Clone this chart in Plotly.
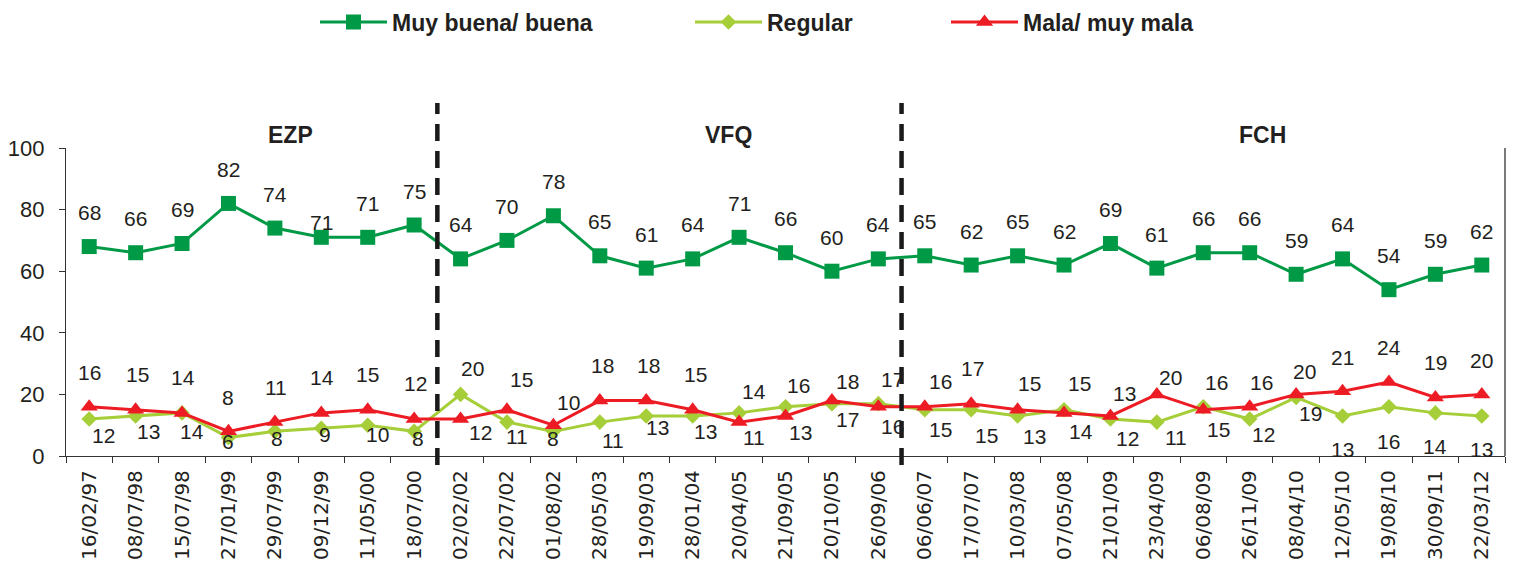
import plotly.graph_objects as go

# ---------------- data ----------------
dates = ["16/02/97", "08/07/98", "15/07/98", "27/01/99", "29/07/99", "09/12/99", "11/05/00",
         "18/07/00", "02/02/02", "22/07/02", "01/08/02", "28/05/03", "19/09/03", "28/01/04",
         "20/04/05", "21/09/05", "20/10/05", "26/09/06", "06/06/07", "17/07/07", "10/03/08",
         "07/05/08", "21/01/09", "23/04/09", "06/08/09", "26/11/09", "08/04/10", "12/05/10",
         "19/08/10", "30/09/11", "22/03/12"]
good = [68, 66, 69, 82, 74, 71, 71, 75, 64, 70, 78, 65, 61, 64, 71, 66, 60, 64, 65, 62, 65,
        62, 69, 61, 66, 66, 59, 64, 54, 59, 62]
regular = [12, 13, 14, 6, 8, 9, 10, 8, 20, 11, 8, 11, 13, 13, 14, 16, 17, 17, 15, 15, 13,
           15, 12, 11, 16, 12, 19, 13, 16, 14, 13]
bad = [16, 15, 14, 8, 11, 14, 15, 12, 12, 15, 10, 18, 18, 15, 11, 13, 18, 16, 16, 17, 15,
       14, 13, 20, 15, 16, 20, 21, 24, 19, 20]
series_names = ["Muy buena/ buena", "Regular", "Mala/ muy mala"]
periods = ["EZP", "VFQ", "FCH"]

# ---------------- style ----------------
colors = ["#009A46", "#A6CE39", "#ED1C24"]
symbols = ["square", "diamond", "triangle-up"]
msizes = [15, 12, 15]
period_pos = [4.33, 13.77, 25.28]
period_breaks = [7.5, 17.5]

# label offsets in px (yshift positive = up)
good_dy = [34] * 31
good_dy[5] = 15
good_dx = [0] * 31
reg_dy = [-16, -16, -19, -4, -7, -6, -9, -7, 26, -14, -7, -18, -12, -16, 21, 21, -16, 24,
          -20, -26, -21, 26, -19, -15, 24, -15, -16, -34, -35, -34, -34]
reg_dx = [14, 13, 10, 0, 2, 4, 10, 4, 12, 10, 0, 13, 11, 13, 15, 13, 16, 14, 16, 15, 17,
          15, 17, 19, 13, 14, 14, 0, 0, 0, 0]
bad_dy = [34, 35, 35, 34, 35, 35, 35, 36, -13, 30, 23, 35, 35, 35, -15, -17, 19, -20, 25,
          35, 26, -19, 22, 17, -20, 24, 23, 34, 35, 35, 34]
bad_dx = [0, 2, 1, 0, 1, 1, 0, 1, 20, 15, 15, 3, 2, 3, 15, 15, 16, 14, 16, 1, 12, 17, 14,
          14, 15, 12, 8, 0, 0, 0, 0]

FONT = "Liberation Sans, Arial, sans-serif"
TXT = "#231F20"

# the page body adds an 8px offset, so the figure is sized to fit the window
W, H = 1506, 563
ML, MR, MT, MB = 58, 9, 140, 115
PH = H - MT - MB

fig = go.Figure()
all_series = [good, regular, bad]
legend_names = ["legend", "legend2", "legend3"]
for i, s in enumerate(all_series):
    fig.add_trace(go.Scatter(
        x=dates, y=s, name=series_names[i], mode="lines+markers",
        line=dict(color=colors[i], width=3),
        marker=dict(symbol=symbols[i], size=msizes[i], color=colors[i]),
        legend=legend_names[i], cliponaxis=False,
    ))

annotations = []
for s, dy, dx in [(good, good_dy, good_dx), (regular, reg_dy, reg_dx), (bad, bad_dy, bad_dx)]:
    for j, v in enumerate(s):
        annotations.append(dict(
            x=j, y=v, xref="x", yref="y", text=str(v), showarrow=False,
            xshift=dx[j], yshift=dy[j], xanchor="center", yanchor="middle",
            font=dict(family=FONT, size=21, color=TXT),
        ))
for name, pos in zip(periods, period_pos):
    annotations.append(dict(
        x=pos, y=(H - MB - 127) / PH, xref="x", yref="paper", text="<b>" + name + "</b>",
        showarrow=False, xanchor="center", yanchor="middle",
        font=dict(family=FONT, size=23, color=TXT),
    ))

shapes = []
for b in period_breaks:
    shapes.append(dict(type="line", xref="x", yref="paper", x0=b, x1=b,
                       y0=-9 / PH, y1=(H - MB - 95) / PH,
                       line=dict(color="#1A1A1A", width=4.5, dash="17px,10px")))
# right border line
shapes.append(dict(type="line", xref="paper", yref="paper", x0=1, x1=1, y0=0, y1=1,
                   line=dict(color="#333333", width=1.3)))

legend_px = [307, 682, 938]
leg_common = dict(orientation="h", yanchor="middle", xanchor="left",
                  xref="container", yref="container",
                  font=dict(family=FONT, size=23, color=TXT, weight="bold"),
                  bgcolor="rgba(0,0,0,0)", itemwidth=67)
layout_legends = {}
for k, lp in zip(legend_names, legend_px):
    d = dict(leg_common)
    d["x"] = lp / W
    d["y"] = 1.0 - 14 / H
    layout_legends[k] = d

fig.update_layout(
    width=W, height=H,
    margin=dict(l=ML, r=MR, t=MT, b=MB, autoexpand=False),
    paper_bgcolor="white", plot_bgcolor="white",
    showlegend=True,
    annotations=annotations, shapes=shapes,
    xaxis=dict(type="category", tickson="boundaries", ticks="outside", ticklen=6,
               tickcolor="#333333", showline=True, linecolor="#333333", linewidth=1.3,
               showgrid=False, tickangle=-90, range=[-0.5, len(dates) - 0.5],
               tickfont=dict(family="DejaVu Sans, sans-serif", size=20, color=TXT),
               ticklabelstandoff=5, zeroline=False, automargin=False),
    yaxis=dict(range=[0, 100], dtick=20, ticks="outside", ticklen=6, tickcolor="#333333",
               showline=True, linecolor="#333333", linewidth=1.3, showgrid=False,
               ticklabelstandoff=10,
               zeroline=False, tickfont=dict(family=FONT, size=22, color=TXT),
               automargin=False),
    **layout_legends,
)

fig.write_html("out.html")
